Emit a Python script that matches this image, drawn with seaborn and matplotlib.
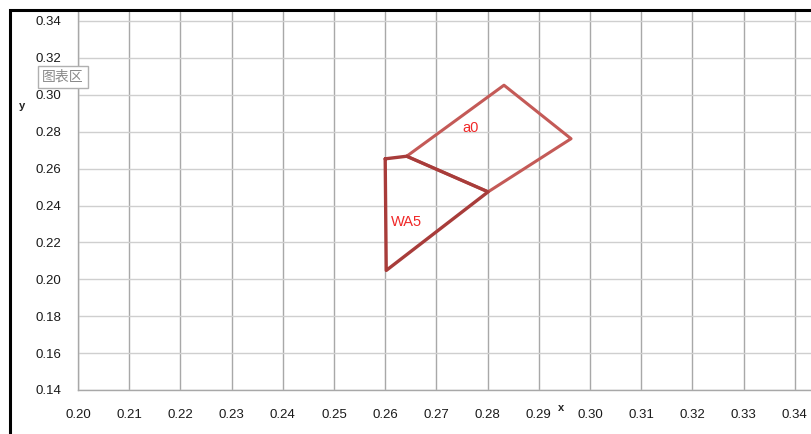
import matplotlib
matplotlib.use("Agg")
import matplotlib.pyplot as plt
import seaborn as sns
import pandas as pd
from matplotlib.patches import Rectangle

# ---- data ----
wa5_x = [0.2600, 0.2642, 0.2801, 0.2602, 0.2600]
wa5_y = [0.2653, 0.2667, 0.2474, 0.2048, 0.2653]
a0_x = [0.2642, 0.2832, 0.2963, 0.2801, 0.2642]
a0_y = [0.2667, 0.3052, 0.2762, 0.2474, 0.2667]
x_ticks = [0.20, 0.21, 0.22, 0.23, 0.24, 0.25, 0.26, 0.27, 0.28, 0.29,
           0.30, 0.31, 0.32, 0.33, 0.34]
y_ticks = [0.14, 0.16, 0.18, 0.20, 0.22, 0.24, 0.26, 0.28, 0.30, 0.32, 0.34]
labels = ["a0", "WA5"]
label_x = [0.2750, 0.2612]
label_y = [0.2820, 0.2310]

sns.set_theme(style="white")
plt.rcParams['font.family'] = ['Liberation Sans', 'Noto Sans CJK SC', 'DejaVu Sans']

fig = plt.figure(figsize=(8.11, 4.34), dpi=100)
ax = fig.add_axes([78/811, 44/434, 1 - 78/811, (390-12)/434])

df_a0 = pd.DataFrame({"x": a0_x, "y": a0_y})
df_wa5 = pd.DataFrame({"x": wa5_x, "y": wa5_y})
sns.lineplot(data=df_a0, x="x", y="y", sort=False, estimator=None,
             color="#C45A57", lw=2.2, ax=ax)
sns.lineplot(data=df_wa5, x="x", y="y", sort=False, estimator=None,
             color="#A83C3A", lw=2.4, ax=ax)

for t, xx, yy in zip(labels, label_x, label_y):
    ax.text(xx, yy, t, color="#F02828", fontsize=10.5, ha="left", va="center")

ax.set_xlim(0.20, 0.20 + 733/5120)
ax.set_ylim(0.14, 0.14 + 378/1845)
ax.set_xticks(x_ticks)
ax.set_yticks(y_ticks)
ax.set_xticklabels([f"{v:.2f}" for v in x_ticks])
ax.set_yticklabels([f"{v:.2f}" for v in y_ticks])
ax.tick_params(axis="both", labelsize=9.5, labelcolor="#1A1A1A", length=0)
ax.tick_params(axis="x", pad=14)
ax.tick_params(axis="y", pad=12)

ax.grid(True, axis="x", color="#A8A8A8", lw=1)
ax.grid(True, axis="y", color="#CFCFCF", lw=1)
ax.set_axisbelow(True)
for s in ["top", "right"]:
    ax.spines[s].set_visible(False)
for s in ["left", "bottom"]:
    ax.spines[s].set_color("#A8A8A8")
    ax.spines[s].set_linewidth(1)

ax.set_xlabel("")
ax.set_ylabel("")
fig.text(561/811, 1 - 408/434, "x", fontsize=8, fontweight="bold",
         color="#222222", ha="center", va="center")
fig.text(22/811, 1 - 106/434, "y", fontsize=8, fontweight="bold",
         color="#222222", ha="center", va="center")

# chart-area border (cropped at right/bottom)
fig.patches.append(Rectangle((10/811, -0.05), 1.0, (434-10)/434 + 0.05,
                             transform=fig.transFigure, fill=False,
                             edgecolor="black", lw=2.2, zorder=10))

# tooltip artifact
fig.text(63/811, 1 - 77/434, "图表区", fontsize=10, color="#8A8A8A",
         ha="center", va="center",
         family=['Noto Sans CJK SC', 'DejaVu Sans'],
         bbox=dict(boxstyle="square,pad=0.3", fc="white", ec="#B0B0B0", lw=1))

fig.savefig("out.png", dpi=100)
